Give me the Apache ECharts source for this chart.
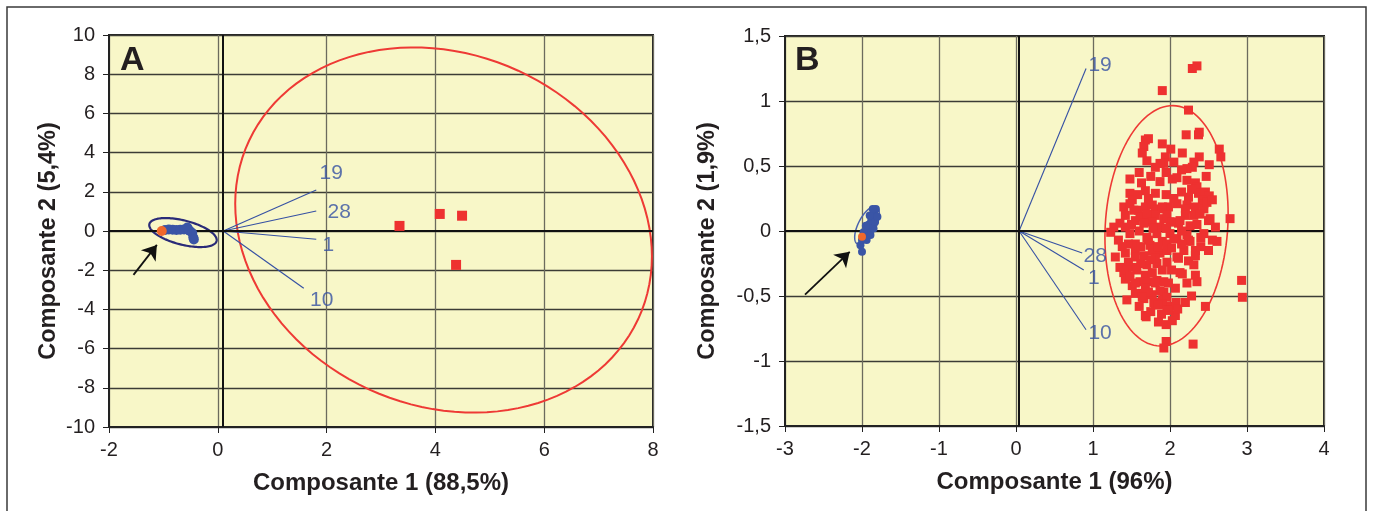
<!DOCTYPE html>
<html><head><meta charset="utf-8">
<script src="https://cdn.jsdelivr.net/npm/echarts@6/dist/echarts.min.js"></script>
<style>html,body{margin:0;padding:0;background:#fff}#c{width:1373px;height:511px}</style>
</head><body><div id="c"></div>
<script>
// ---------- DATA ----------
const loadNames = ['19', '28', '1', '10'];
// Panel A (Composante 1 88,5% / Composante 2 5,4%)
const originA = [0.1, 0];
const loadA = [[1.81, 2.09], [1.81, 1.02], [1.81, -0.42], [1.58, -2.92]];
const redA = [[3.34, 0.26], [4.08, 0.87], [4.49, 0.78], [4.38, -1.73]];
const blueA = [[-0.97, 0.05], [-0.9, 0.08], [-0.83, 0.06], [-0.76, 0.05], [-0.69, 0.06], [-0.62, 0.08],
  [-0.56, 0.18], [-0.52, 0.02], [-0.47, -0.1], [-0.45, -0.33], [-0.44, -0.43]];
const orangeA = [[-1.03, 0.0]];
// ellipse: centre x, centre y, u-vector (x,y), v-vector (x,y)
const ellRedA = [4.15, 0.05, 3.83, -1.34, 0, 9.22];
const ellBlueA = [-0.64, -0.08, 0.62, -0.38, 0, 0.635];
const arrowA = [[-1.55, -2.24], [-1.12, -0.71]];
const xTicksA = [-2, 8, 2];
const yTicksA = [-10, 10, 2];

// Panel B (Composante 1 96% / Composante 2 1,9%)
const originB = [0.04, 0];
const loadB = [[0.91, 1.25], [0.86, -0.17], [0.88, -0.30], [0.91, -0.76]];
const blueB = [[-2.02, -0.11], [-2.0, -0.07], [-1.97, -0.04], [-1.94, -0.01], [-1.92, 0.02], [-1.91, 0.05],
  [-1.88, 0.08], [-1.87, 0.11], [-1.84, 0.14], [-1.82, 0.17], [-1.94, -0.07], [-1.89, -0.03], [-1.85, 0.02],
  [-1.83, 0.07], [-1.8, 0.11], [-1.98, -0.01], [-1.95, 0.04], [-1.9, 0.12], [-1.86, 0.17], [-2.0, -0.16]];
const orangeB = [[-2.0, -0.045]];
const redB = [
  [2.29, 1.25], [2.35, 1.27], [1.90, 1.08], [2.24, 0.93],
  [2.21, 0.74], [2.37, 0.74], [2.38, 0.76], [1.68, 0.70], [1.72, 0.71], [1.90, 0.67],
  [1.66, 0.65], [1.64, 0.60], [1.70, 0.54], [2.01, 0.63], [2.16, 0.60], [1.94, 0.57], [1.92, 0.52], [2.05, 0.53], [2.38, 0.57],
  [2.31, 0.53], [2.29, 0.49], [2.64, 0.63], [2.66, 0.57], [2.51, 0.51], [1.81, 0.49], [1.87, 0.52], [2.22, 0.48],
  [1.48, 0.40], [1.63, 0.37], [1.68, 0.31], [1.87, 0.38], [2.03, 0.40], [2.09, 0.41], [2.22, 0.39], [2.33, 0.37], [2.47, 0.42],
  [1.81, 0.29], [1.48, 0.29], [1.51, 0.24], [2.35, 0.34], [2.37, 0.29], [2.46, 0.30], [2.51, 0.27], [2.24, 0.26], [2.42, 0.24], [2.44, 0.21],
  [1.40, 0.185], [1.48, 0.21], [1.59, 0.16], [1.68, 0.185], [1.77, 0.20], [1.87, 0.17], [1.98, 0.185], [2.09, 0.21], [2.22, 0.20],
  [2.33, 0.185], [2.44, 0.17], [2.48, 0.22], [2.55, 0.24], [1.53, 0.16], [1.81, 0.16], [1.90, 0.185], [2.20, 0.17],
  [1.42, 0.12], [1.55, 0.08], [1.64, 0.11], [1.72, 0.07], [1.81, 0.12], [1.92, 0.095], [2.00, 0.07], [2.11, 0.06], [2.20, 0.12],
  [2.31, 0.12], [2.50, 0.08], [2.59, 0.03], [1.35, 0.06], [1.27, 0.03], [2.78, 0.095],
  [1.42, 0.03], [1.61, 0.11], [1.70, 0.13], [1.96, 0.12], [2.03, 0.07], [2.13, 0.08], [2.26, 0.04], [2.52, 0.095], [2.39, 0.13],
  [1.77, 0.07], [1.87, 0.03], [1.66, 0.06],
  [1.23, -0.01], [1.33, -0.07], [1.48, -0.02], [1.55, -0.10], [1.70, -0.05], [1.83, -0.02], [1.90, -0.08], [2.00, -0.02],
  [2.09, -0.06], [2.22, -0.03], [2.26, -0.08], [2.44, -0.02], [2.55, -0.07], [2.61, -0.08], [1.74, -0.11],
  [1.46, -0.10], [1.72, -0.07], [1.96, -0.10], [2.05, -0.06], [2.24, -0.07],
  [2.50, -0.15], [1.29, -0.20], [1.42, -0.17], [1.46, -0.24], [1.55, -0.15], [1.66, -0.19], [1.77, -0.15], [1.87, -0.17],
  [1.96, -0.15], [2.09, -0.20], [2.18, -0.15], [2.24, -0.23], [2.33, -0.19], [2.31, -0.26], [1.35, -0.28], [1.53, -0.28],
  [1.70, -0.26], [1.83, -0.25], [1.96, -0.24], [2.33, -0.15], [1.55, -0.20], [1.81, -0.21], [2.11, -0.21], [1.44, -0.30],
  [2.13, -0.32], [1.40, -0.32], [1.42, -0.37], [1.57, -0.30], [1.68, -0.34], [1.77, -0.32], [1.90, -0.30], [1.51, -0.42],
  [1.61, -0.39], [1.72, -0.39], [1.83, -0.38], [1.92, -0.39], [2.07, -0.44], [2.33, -0.34], [2.35, -0.39], [2.93, -0.38],
  [2.16, -0.33], [1.55, -0.40], [1.68, -0.44], [1.81, -0.40], [1.92, -0.47],
  [1.44, -0.53], [1.64, -0.48], [1.66, -0.52], [1.77, -0.49], [1.81, -0.56], [1.87, -0.46], [1.90, -0.53], [1.96, -0.51],
  [2.00, -0.58], [2.08, -0.55], [2.28, -0.50], [2.46, -0.58], [2.94, -0.51], [1.55, -0.48], [1.72, -0.47], [1.64, -0.51],
  [1.79, -0.55], [1.90, -0.56], [1.96, -0.61],
  [1.69, -0.66], [1.89, -0.64], [2.03, -0.69], [2.07, -0.65], [1.95, -0.85], [1.92, -0.90], [2.30, -0.87], [1.98, -0.61],
  [1.85, -0.57], [1.68, -0.65],
  [1.60, 0.45], [1.75, 0.42], [1.95, 0.45], [2.15, 0.47], [1.58, 0.28], [1.72, 0.25], [1.95, 0.28], [2.05, 0.25], [2.15, 0.30], [2.28, 0.32],
  [1.50, 0.05], [1.60, 0.00], [1.78, 0.02], [1.95, 0.02], [2.15, 0.00], [2.35, 0.05], [2.40, -0.05],
  [1.38, -0.12], [1.62, -0.12], [1.85, -0.12], [2.02, -0.13], [2.15, -0.10], [2.40, -0.12],
  [1.48, -0.35], [1.62, -0.25], [1.75, -0.22], [2.02, -0.30], [2.22, -0.40], [1.98, -0.40],
  [1.60, -0.58], [1.75, -0.62], [1.85, -0.70], [1.95, -0.72], [2.10, -0.60], [2.20, -0.55]
];
const ellRedB = [1.955, 0.04, 0.8, 0.09, 0, 0.92];
const ellBlueB = [-1.935, 0.043, 0.125, 0.143, 0.10, -0.032];
const arrowB = [[-2.74, -0.49], [-2.16, -0.16]];
const xTicksB = [-3, 4, 1];
const yTicksB = [-1.5, 1.5, 0.5];

// ---------- STYLE ----------
const FONT = '"Liberation Sans", Arial, Helvetica, sans-serif';
const TXT = '#231f20';
const RED = '#ee3130';
const BLUE = '#3a55a6';
const ORANGE = '#f0682b';
const NAVY = '#2a2b78';
const LOADC = '#3550a3';
const BG = '#f8f7c8';

const chart = echarts.init(document.getElementById('c'), null, {renderer: 'canvas'});

function ellipseSeries(ell, gi, color, width) {
  return {
    type: 'custom', xAxisIndex: gi, yAxisIndex: gi, z: 3, silent: true,
    data: [ell], encode: {x: 0, y: 1},
    renderItem: function (params, api) {
      const cx = api.value(0), cy = api.value(1), ux = api.value(2), uy = api.value(3), vx = api.value(4), vy = api.value(5);
      const pts = [];
      for (let i = 0; i <= 120; i++) {
        const t = i / 120 * Math.PI * 2;
        pts.push(api.coord([cx + ux * Math.cos(t) + vx * Math.sin(t), cy + uy * Math.cos(t) + vy * Math.sin(t)]));
      }
      return {type: 'polyline', shape: {points: pts}, style: {fill: null, stroke: color, lineWidth: width}};
    }
  };
}

function xAxisDef(gi, t, name, gap) {
  return {
    gridIndex: gi, type: 'value', min: t[0], max: t[1], interval: t[2],
    name: name, nameLocation: 'middle', nameGap: gap,
    nameTextStyle: {fontFamily: FONT, fontSize: 24, fontWeight: 'bold', color: TXT},
    axisLine: {show: true, onZero: false, lineStyle: {color: '#222', width: 2}},
    axisTick: {show: true, inside: false, length: 6, lineStyle: {color: '#222', width: 1}},
    axisLabel: {fontFamily: FONT, fontSize: 20, color: TXT, margin: 13},
    splitLine: {show: true, lineStyle: {color: '#6c6b5e', width: 1.3}}
  };
}
function yAxisDef(gi, t, name, gap, fmt) {
  return {
    gridIndex: gi, type: 'value', min: t[0], max: t[1], interval: t[2],
    name: name, nameLocation: 'middle', nameGap: gap,
    nameTextStyle: {fontFamily: FONT, fontSize: 23.5, fontWeight: 'bold', color: TXT, padding: [0, 20, 0, 0]},
    axisLine: {show: true, onZero: false, lineStyle: {color: '#222', width: 2}},
    axisTick: {show: true, inside: false, length: 6, lineStyle: {color: '#222', width: 1}},
    axisLabel: {fontFamily: FONT, fontSize: 20, color: TXT, margin: 14, formatter: fmt},
    splitLine: {show: true, lineStyle: {color: '#3c3c36', width: 1.3}}
  };
}
const commaFmt = v => String(+v.toFixed(2)).replace('.', ',');

function zeroLines(gi, xCross) {
  return {
    type: 'line', xAxisIndex: gi, yAxisIndex: gi, data: [], z: 2, silent: true,
    markLine: {
      silent: true, symbol: ['none', 'none'], animation: false, label: {show: false},
      lineStyle: {color: '#111', width: 2, type: 'solid'},
      data: [{xAxis: xCross}, {yAxis: 0}]
    }
  };
}
function loadLines(gi, origin, ends) {
  return {
    type: 'lines', coordinateSystem: 'cartesian2d', xAxisIndex: gi, yAxisIndex: gi, z: 3, silent: true,
    lineStyle: {color: LOADC, width: 1.1, opacity: 1},
    data: ends.map(e => ({coords: [origin, e]}))
  };
}
function loadLabels(gi, ends, offsets) {
  return {
    type: 'scatter', xAxisIndex: gi, yAxisIndex: gi, symbolSize: 1, z: 4, silent: true,
    itemStyle: {color: 'rgba(0,0,0,0)'},
    data: ends.map((e, i) => ({
      value: e, name: loadNames[i],
      label: {show: true, position: 'inside', offset: offsets[i], formatter: loadNames[i],
        fontFamily: FONT, fontSize: 21, color: LOADC}
    }))
  };
}
function arrow(gi, a) {
  return {
    type: 'lines', coordinateSystem: 'cartesian2d', xAxisIndex: gi, yAxisIndex: gi, z: 5, silent: true,
    symbol: ['none', 'arrow'], symbolSize: 14,
    lineStyle: {color: '#111', width: 1.8, opacity: 1},
    data: [{coords: a}]
  };
}
function pts(gi, data, symbol, size, color, z) {
  return {type: 'scatter', xAxisIndex: gi, yAxisIndex: gi, symbol: symbol, symbolSize: size, z: z, silent: true,
    itemStyle: {color: color, opacity: 1}, data: data};
}

const option = {
  animation: false,
  backgroundColor: '#ffffff',
  grid: [
    {left: 109, top: 35, width: 544, height: 392, show: true, backgroundColor: BG, borderColor: '#222', borderWidth: 2},
    {left: 785, top: 36, width: 539, height: 390, show: true, backgroundColor: BG, borderColor: '#222', borderWidth: 2}
  ],
  xAxis: [
    xAxisDef(0, xTicksA, 'Composante 1 (88,5%)', 44),
    xAxisDef(1, xTicksB, 'Composante 1 (96%)', 44)
  ],
  yAxis: [
    yAxisDef(0, yTicksA, 'Composante 2 (5,4%)', 48, v => String(v)),
    yAxisDef(1, yTicksB, 'Composante 2 (1,9%)', 65, commaFmt)
  ],
  graphic: [
    {type: 'rect', shape: {x: 7, y: 7, width: 1359, height: 530}, style: {fill: null, stroke: '#3a3a3a', lineWidth: 1.5}, z: 100, silent: true},
    {type: 'text', left: 120, top: 44, style: {text: 'A', font: 'bold 34px ' + FONT, fill: TXT}, z: 100},
    {type: 'text', left: 795, top: 44, style: {text: 'B', font: 'bold 34px ' + FONT, fill: TXT}, z: 100}
  ],
  series: [
    zeroLines(0, originA[0]),
    zeroLines(1, originB[0]),
    ellipseSeries(ellRedA, 0, '#ee3a35', 2),
    ellipseSeries(ellBlueA, 0, NAVY, 2.2),
    ellipseSeries(ellRedB, 1, '#ee3a35', 1.6),
    ellipseSeries(ellBlueB, 1, '#4a62ad', 1.5),
    loadLines(0, originA, loadA),
    loadLines(1, originB, loadB),
    loadLabels(0, loadA, [[15, -17], [23, 1], [12, 6], [18, 12]]),
    loadLabels(1, loadB, [[14, -3], [13, 3], [10, 8], [14, 3]]),
    pts(0, redA, 'rect', 10, RED, 6),
    pts(0, blueA, 'circle', 10, BLUE, 6),
    pts(0, orangeA, 'circle', 10, ORANGE, 7),
    pts(1, redB, 'rect', 9, RED, 6),
    pts(1, blueB, 'circle', 8, BLUE, 6),
    pts(1, orangeB, 'circle', 8, ORANGE, 7),
    arrow(0, arrowA),
    arrow(1, arrowB)
  ]
};
chart.setOption(option);
</script>
</body></html>
